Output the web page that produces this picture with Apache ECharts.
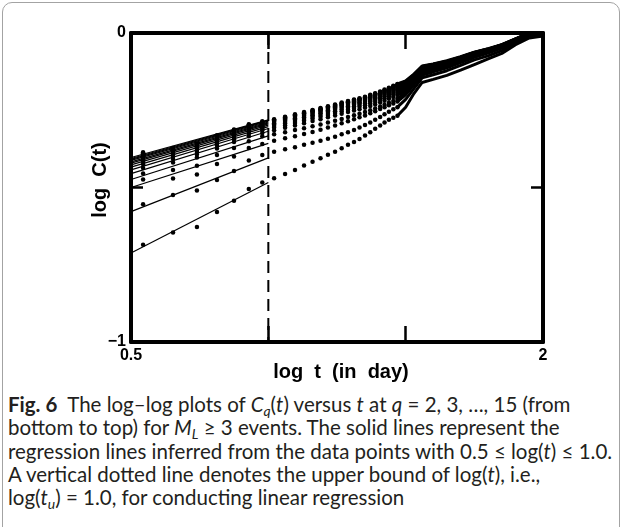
<!DOCTYPE html>
<html>
<head>
<meta charset="utf-8">
<script src="https://cdn.jsdelivr.net/npm/echarts@6/dist/echarts.min.js"></script>
<style>
html, body { margin:0; padding:0; background:#fff; }
#wrap { position:relative; width:623px; height:527px; overflow:hidden; }
#frame { position:absolute; left:2px; top:2px; width:616px; height:580px; border:1.5px solid #a3a3a3; border-radius:10px; }
#chart { position:absolute; left:0; top:0; width:623px; height:392px; }
#caption { position:absolute; left:8px; top:393px; font-family:Lato, 'Noto Sans', sans-serif; font-size:20.5px; line-height:23.3px; color:#231f20; white-space:nowrap; }
#caption sub { font-size:0.68em; vertical-align:-0.28em; line-height:0; }
</style>
</head>
<body>
<div id="wrap">
  <div id="frame"></div>
  <div id="chart"></div>
  <div id="caption">
    <b>Fig. 6</b>&nbsp; The log–log plots of <i>C<sub>q</sub></i>(<i>t</i>) versus <i>t</i> at <i>q</i> = 2, 3, …, 15 (from<br>
    bottom to top) for <i>M<sub>L</sub></i> ≥ 3 events. The solid lines represent the<br>
    regression lines inferred from the data points with 0.5 ≤ log(<i>t</i>) ≤ 1.0.<br>
    A vertical dotted line denotes the upper bound of log(<i>t</i>), i.e.,<br>
    log(<i>t<sub>u</sub></i>) = 1.0, for conducting linear regression
  </div>
</div>
<script>
// q = 2 ... 15, bottom to top
var qLevels = [2, 3, 4, 5, 6, 7, 8, 9, 10, 11, 12, 13, 14, 15];

// log t of the single dots (t = 3.5 ... 29.5 days)
var dotLogT = [0.544, 0.653, 0.740, 0.813, 0.875, 0.929, 0.978, 1.021, 1.061, 1.097, 1.130, 1.161, 1.190, 1.217,
  1.243, 1.267, 1.290, 1.312, 1.332, 1.352, 1.371, 1.389, 1.407, 1.423, 1.439, 1.455, 1.470];

// log C(t) at those dots
var cq2  = [-0.685, -0.646, -0.628, -0.579, -0.543, -0.505, -0.484, -0.470, -0.456, -0.443, -0.429, -0.417, -0.405, -0.394, -0.384, -0.373, -0.362, -0.353, -0.343, -0.332, -0.321, -0.310, -0.299, -0.290, -0.281, -0.274, -0.268];
var cq3  = [-0.554, -0.524, -0.510, -0.476, -0.447, -0.413, -0.395, -0.384, -0.376, -0.370, -0.362, -0.355, -0.349, -0.342, -0.336, -0.328, -0.321, -0.314, -0.306, -0.298, -0.290, -0.281, -0.272, -0.263, -0.255, -0.247, -0.240];
var cq4  = [-0.474, -0.471, -0.458, -0.424, -0.400, -0.372, -0.359, -0.349, -0.341, -0.334, -0.327, -0.320, -0.313, -0.306, -0.299, -0.292, -0.286, -0.279, -0.273, -0.267, -0.260, -0.253, -0.246, -0.240, -0.234, -0.228, -0.222];
var cq5  = [-0.455, -0.443, -0.430, -0.395, -0.372, -0.350, -0.334, -0.328, -0.321, -0.314, -0.308, -0.302, -0.296, -0.290, -0.284, -0.278, -0.272, -0.266, -0.261, -0.256, -0.250, -0.244, -0.238, -0.232, -0.226, -0.220, -0.213];
var cq6  = [-0.437, -0.419, -0.403, -0.374, -0.353, -0.334, -0.324, -0.315, -0.307, -0.299, -0.292, -0.285, -0.279, -0.273, -0.267, -0.261, -0.256, -0.251, -0.247, -0.242, -0.236, -0.231, -0.225, -0.219, -0.213, -0.207, -0.201];
var cq7  = [-0.425, -0.408, -0.393, -0.364, -0.344, -0.325, -0.315, -0.307, -0.299, -0.291, -0.284, -0.277, -0.271, -0.265, -0.259, -0.253, -0.248, -0.243, -0.239, -0.234, -0.228, -0.223, -0.217, -0.211, -0.205, -0.199, -0.193];
var cq8  = [-0.417, -0.400, -0.385, -0.357, -0.337, -0.318, -0.309, -0.301, -0.293, -0.285, -0.278, -0.271, -0.265, -0.259, -0.253, -0.247, -0.242, -0.237, -0.233, -0.228, -0.222, -0.217, -0.211, -0.205, -0.199, -0.193, -0.187];
var cq9  = [-0.409, -0.394, -0.379, -0.351, -0.331, -0.313, -0.303, -0.296, -0.288, -0.280, -0.273, -0.266, -0.260, -0.254, -0.248, -0.242, -0.237, -0.232, -0.228, -0.223, -0.217, -0.212, -0.206, -0.200, -0.194, -0.188, -0.182];
var cq10 = [-0.404, -0.388, -0.374, -0.346, -0.326, -0.309, -0.299, -0.292, -0.284, -0.276, -0.269, -0.262, -0.256, -0.250, -0.244, -0.238, -0.233, -0.228, -0.224, -0.219, -0.213, -0.208, -0.202, -0.196, -0.190, -0.184, -0.178];
var cq11 = [-0.399, -0.384, -0.370, -0.342, -0.323, -0.305, -0.296, -0.288, -0.280, -0.272, -0.265, -0.258, -0.252, -0.246, -0.240, -0.234, -0.229, -0.224, -0.220, -0.215, -0.209, -0.204, -0.198, -0.192, -0.186, -0.180, -0.174];
var cq12 = [-0.395, -0.380, -0.366, -0.339, -0.319, -0.302, -0.293, -0.285, -0.277, -0.269, -0.262, -0.255, -0.249, -0.243, -0.237, -0.231, -0.226, -0.221, -0.217, -0.212, -0.206, -0.201, -0.195, -0.189, -0.183, -0.177, -0.171];
var cq13 = [-0.392, -0.378, -0.363, -0.336, -0.317, -0.300, -0.291, -0.283, -0.275, -0.267, -0.260, -0.253, -0.247, -0.241, -0.235, -0.229, -0.224, -0.219, -0.215, -0.210, -0.204, -0.199, -0.193, -0.187, -0.181, -0.175, -0.169];
var cq14 = [-0.389, -0.375, -0.361, -0.334, -0.314, -0.297, -0.288, -0.281, -0.273, -0.265, -0.258, -0.251, -0.245, -0.239, -0.233, -0.227, -0.222, -0.217, -0.213, -0.208, -0.202, -0.197, -0.191, -0.185, -0.179, -0.173, -0.167];
var cq15 = [-0.386, -0.372, -0.358, -0.331, -0.312, -0.295, -0.286, -0.279, -0.271, -0.263, -0.256, -0.249, -0.243, -0.237, -0.231, -0.225, -0.220, -0.215, -0.211, -0.206, -0.200, -0.195, -0.189, -0.183, -0.177, -0.171, -0.165];

// right part where the dots run together into a band
var bandLogT = [1.47, 1.50, 1.53, 1.56, 1.60, 1.65, 1.70, 1.75, 1.80, 1.85, 1.90, 1.95, 2.00];
var bq2  = [-0.268, -0.240, -0.196, -0.160, -0.150, -0.137, -0.120, -0.102, -0.084, -0.066, -0.038, -0.016, -0.010];
var bq3  = [-0.240, -0.215, -0.180, -0.145, -0.135, -0.122, -0.105, -0.087, -0.074, -0.057, -0.031, -0.012, -0.008];
var bq4  = [-0.222, -0.200, -0.168, -0.136, -0.126, -0.113, -0.096, -0.079, -0.065, -0.049, -0.027, -0.008, -0.006];
var bq5  = [-0.213, -0.192, -0.160, -0.129, -0.120, -0.108, -0.092, -0.075, -0.061, -0.046, -0.025, -0.007, -0.005];
var bq6  = [-0.201, -0.186, -0.154, -0.123, -0.115, -0.104, -0.089, -0.073, -0.060, -0.045, -0.024, -0.006, -0.004];
var bq7  = [-0.193, -0.179, -0.149, -0.119, -0.112, -0.101, -0.086, -0.070, -0.058, -0.043, -0.023, -0.005, -0.003];
var bq8  = [-0.187, -0.174, -0.146, -0.117, -0.109, -0.098, -0.084, -0.069, -0.056, -0.042, -0.022, -0.004, -0.002];
var bq9  = [-0.182, -0.169, -0.143, -0.114, -0.107, -0.096, -0.083, -0.067, -0.055, -0.041, -0.021, -0.003, -0.002];
var bq10 = [-0.178, -0.166, -0.140, -0.113, -0.105, -0.095, -0.081, -0.066, -0.054, -0.040, -0.021, -0.002, -0.001];
var bq11 = [-0.174, -0.163, -0.138, -0.111, -0.104, -0.094, -0.080, -0.065, -0.053, -0.040, -0.020, -0.002, -0.001];
var bq12 = [-0.171, -0.161, -0.137, -0.110, -0.103, -0.093, -0.079, -0.064, -0.053, -0.039, -0.020, -0.001, -0.001];
var bq13 = [-0.169, -0.159, -0.136, -0.109, -0.102, -0.092, -0.078, -0.063, -0.052, -0.039, -0.020, -0.001, 0.000];
var bq14 = [-0.167, -0.157, -0.135, -0.108, -0.101, -0.091, -0.078, -0.063, -0.052, -0.038, -0.019, 0.000, 0.000];
var bq15 = [-0.165, -0.155, -0.133, -0.107, -0.100, -0.090, -0.077, -0.062, -0.051, -0.038, -0.019, 0.000, 0.000];

// regression lines, log C at log t = 0.5 and 1.0
var regLogT = [0.5, 1.0];
var regLeft  = [-0.712, -0.578, -0.500, -0.474, -0.455, -0.443, -0.434, -0.427, -0.421, -0.417, -0.412, -0.409, -0.406, -0.403];
var regRight = [-0.484, -0.404, -0.357, -0.333, -0.318, -0.309, -0.303, -0.298, -0.294, -0.291, -0.288, -0.285, -0.283, -0.281];

var upperBound = 1.0;
var xTicks = ['0.5', '2'];
var yTicks = ['0', '−1'];

var dotSets = [cq2, cq3, cq4, cq5, cq6, cq7, cq8, cq9, cq10, cq11, cq12, cq13, cq14, cq15];
var bandSets = [bq2, bq3, bq4, bq5, bq6, bq7, bq8, bq9, bq10, bq11, bq12, bq13, bq14, bq15];

var chart = echarts.init(document.getElementById('chart'));

var plotRect = { left: 131, top: 33, width: 412, height: 309 };

function xAxisOf(pos, gridIndex) {
  var main = pos === 'bottom';
  return {
    type: 'value', gridIndex: gridIndex, min: 0.5, max: 2, interval: 0.5, position: pos,
    axisLine: { onZero: false, lineStyle: { color: '#000', width: 4 } },
    axisTick: { inside: true, length: 16, lineStyle: { color: '#000', width: 2.5 } },
    axisLabel: {
      margin: 6, showMinLabel: true, showMaxLabel: true,
      color: main ? '#000' : 'rgba(0,0,0,0)', fontWeight: 'bold', fontSize: 16, fontFamily: 'Liberation Sans',
      formatter: function (v) {
        if (!main) return String(v);
        return v === 0.5 ? xTicks[0] : (v === 2 ? xTicks[1] : '');
      }
    },
    splitLine: { show: false }
  };
}
function yAxisOf(pos, gridIndex, visible) {
  var main = pos === 'left';
  return {
    type: 'value', gridIndex: gridIndex, min: -1, max: 0, interval: 0.5, position: pos, show: visible,
    axisLine: { onZero: false, lineStyle: { color: '#000', width: 4 } },
    axisTick: { inside: true, length: 12, lineStyle: { color: '#000', width: 2.5 } },
    axisLabel: {
      margin: 5, showMinLabel: true, showMaxLabel: true,
      color: main ? '#000' : 'rgba(0,0,0,0)', fontWeight: 'bold', fontSize: 16, fontFamily: 'Liberation Sans',
      formatter: function (v) {
        if (!main) return String(v);
        return v === 0 ? yTicks[0] : (v === -1 ? yTicks[1] : '');
      }
    },
    splitLine: { show: false }
  };
}

var series = [];
qLevels.forEach(function (q, i) {
  series.push({
    name: 'q=' + q + ' reg', type: 'line', silent: true, showSymbol: false,
    data: regLogT.map(function (x, j) { return [x, j === 0 ? regLeft[i] : regRight[i]]; }),
    lineStyle: { color: '#000', width: 1.2 }
  });
  series.push({
    name: 'q=' + q, type: 'scatter', silent: true, symbolSize: 4.5,
    data: dotLogT.map(function (x, j) { return [x, dotSets[i][j]]; }),
    itemStyle: { color: '#000', opacity: 1 }
  });
  series.push({
    name: 'q=' + q + ' band', type: 'line', silent: true, showSymbol: false,
    data: bandLogT.map(function (x, j) { return [x, bandSets[i][j]]; }),
    lineStyle: { color: '#000', width: 3 }
  });
});
series.push({
  name: 'upper bound', type: 'line', silent: true, showSymbol: false,
  data: [[upperBound, 0], [upperBound, -1]],
  lineStyle: { color: '#000', width: 2, type: [12, 7] }
});

chart.setOption({
  animation: false,
  // second grid on the same rectangle only carries the top frame axis
  grid: [plotRect, plotRect],
  xAxis: [xAxisOf('bottom', 0), xAxisOf('top', 1)],
  yAxis: [yAxisOf('left', 0, true), yAxisOf('right', 0, true), yAxisOf('left', 1, false)],
  graphic: [{
    type: 'text', x: 100, y: 180, rotation: Math.PI / 2,
    style: { text: 'log  C(t)', fill: '#000', font: 'bold 20px "Liberation Sans"', align: 'center', verticalAlign: 'middle' }
  }, {
    type: 'text', x: 341, y: 372,
    style: { text: 'log  t  (in  day)', fill: '#000', font: 'bold 20px "Liberation Sans"', align: 'center', verticalAlign: 'middle' }
  }],
  series: series
});
</script>
</body>
</html>
